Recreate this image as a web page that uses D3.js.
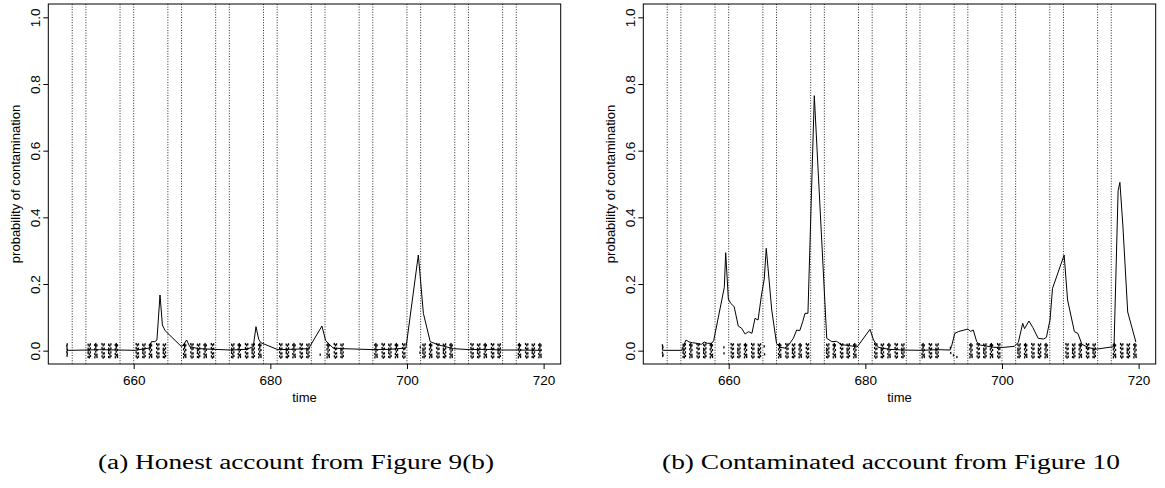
<!DOCTYPE html>
<html>
<head>
<meta charset="utf-8">
<script src="https://cdn.jsdelivr.net/npm/d3@7"></script>
<style>
  body { margin: 0; background: #fff; }
  svg { display: block; }
</style>
</head>
<body>
<svg id="chart" width="1165" height="488"></svg>
<script>
// weekend boundaries (dotted verticals), same for both accounts
const weekendLines = [651, 653, 658, 660, 665, 667, 672, 674, 679, 681, 686, 688, 693, 695, 700, 702, 707, 709, 714, 716];
const xTicks = [660, 680, 700, 720];
const yTicks = [0, 0.2, 0.4, 0.6, 0.8, 1.0];

// (a) honest account
const honestTime = [650.2, 650.5, 653.2, 655.0, 657.7, 660.2, 662.3, 662.6, 663.1, 663.4, 663.85, 664.2, 664.6,
  667.0, 667.3, 667.75, 668.2, 669.5, 671.7, 674.2, 676.5, 677.5, 677.9, 678.3, 678.6, 681.1, 683.0, 685.6,
  687.55, 688.1, 688.5, 689.2, 690.6, 695.2, 697.5, 699.85, 701.66, 702.4, 703.4, 704.5, 706.8, 709.2, 711.5,
  713.8, 716.2, 719.7];
const honestProb = [0.002, 0.001, 0.002, 0.003, 0.002, 0.001, 0.008, 0.027, 0.027, 0.032, 0.167, 0.077, 0.060,
  0.012, 0.018, 0.032, 0.012, 0.006, 0.004, 0.002, 0.004, 0.012, 0.072, 0.034, 0.024, 0.003, 0.004, 0.006,
  0.074, 0.030, 0.022, 0.008, 0.006, 0.003, 0.004, 0.008, 0.287, 0.112, 0.027, 0.018, 0.006, 0.003, 0.004,
  0.002, 0.002, 0.001];
const honestDays = [653, 654, 655, 656, 657, 660, 661, 662, 663, 664, 667, 668, 669, 670, 671, 674, 675, 676, 677, 678,
  681, 682, 683, 684, 685, 688, 689, 690, 695, 696, 697, 698, 699, 702, 703, 704, 705, 706, 709, 710, 711, 712, 713,
  716, 717, 718, 719];
const honestStrayT = [650.22, 650.22, 650.24, 650.25, 650.27, 650.28, 650.3, 687.3, 701.9, 701.95];
const honestStrayY = [0.014, -0.004, 0.007, -0.015, 0.019, -0.009, 0.002, -0.012, -0.006, 0.01];

// (b) contaminated account
const contamTime = [650.3, 653.1, 653.75, 654.2, 654.7, 655.3, 656.0, 656.4, 656.9, 657.5, 657.8, 659.36, 659.56,
  659.95, 660.3, 660.8, 661.4, 661.9, 662.4, 662.9, 663.4, 663.85, 664.3, 664.8, 665.2, 665.5, 666.3, 667.0,
  667.5, 668.2, 668.7, 669.46, 669.95, 670.4, 670.83, 671.17, 671.6, 672.53, 674.35, 675.1, 675.8, 676.5, 677.75,
  678.8, 680.68, 681.2, 681.9, 683.5, 685.5, 688.2, 690.6, 692.4, 692.6, 693.1, 693.6, 695.0, 695.4, 695.8,
  696.3, 696.8, 698.8, 700.3, 701.8, 702.4, 703.03, 703.3, 703.95, 704.5, 705.3, 706.1, 706.5, 707.03, 707.4,
  709.1, 709.6, 710.6, 711.1, 711.7, 712.6, 713.6, 716.4, 717.0, 717.26, 717.7, 718.4, 719.6];
const contamProb = [0.001, 0.001, 0.032, 0.026, 0.024, 0.022, 0.019, 0.026, 0.022, 0.022, 0.030, 0.190, 0.294,
  0.155, 0.142, 0.132, 0.074, 0.067, 0.050, 0.057, 0.052, 0.097, 0.092, 0.167, 0.215, 0.307, 0.122, 0.022,
  0.010, 0.008, 0.015, 0.037, 0.062, 0.060, 0.087, 0.112, 0.112, 0.765, 0.037, 0.027, 0.028, 0.018, 0.015,
  0.011, 0.064, 0.032, 0.010, 0.004, 0.002, 0.001, 0.003, 0.002, 0.012, 0.052, 0.057, 0.065, 0.058, 0.062,
  0.027, 0.017, 0.010, 0.010, 0.013, 0.025, 0.082, 0.066, 0.089, 0.070, 0.037, 0.035, 0.040, 0.092, 0.187,
  0.287, 0.152, 0.057, 0.052, 0.019, 0.010, 0.004, 0.012, 0.480, 0.505, 0.374, 0.116, 0.026];
const contamDays = [653, 654, 655, 656, 657, 660, 661, 662, 663, 664, 667, 668, 669, 670, 671, 674, 675, 676, 677, 678,
  681, 682, 683, 684, 685, 688, 689, 690, 695, 696, 697, 698, 699, 702, 703, 704, 705, 706, 709, 710, 711, 712, 713,
  716, 717, 718, 719];
const contamStrayT = [650.3, 650.3, 650.32, 650.34, 650.36, 650.38, 659.3, 659.32, 665.2, 665.25, 692.45, 692.5, 692.9, 693.4];
const contamStrayY = [0.016, -0.006, 0.006, -0.016, 0.011, -0.012, 0.01, -0.008, 0.013, -0.011, 0.009, -0.007, -0.014, -0.019];

// transaction times within a working day (offset in days) and their jitter
const stripDx = [
  [0.33, 0.33, 0.33, 0.33, 0.34, 0.50, 0.50, 0.50, 0.51, 0.66, 0.66, 0.66, 0.67],
  [0.30, 0.30, 0.30, 0.31, 0.45, 0.45, 0.45, 0.46, 0.46, 0.62, 0.62, 0.62, 0.63],
  [0.36, 0.36, 0.36, 0.37, 0.53, 0.53, 0.53, 0.53, 0.69, 0.69, 0.69, 0.70]
];
const stripDy = [
  [0.018, 0.006, -0.007, -0.019, 0.000, 0.015, 0.003, -0.011, -0.020, 0.019, 0.007, -0.005, -0.016],
  [0.017, 0.004, -0.010, -0.020, 0.020, 0.009, -0.003, -0.014, 0.014, 0.016, 0.002, -0.012, -0.019],
  [0.020, 0.008, -0.005, -0.017, 0.016, 0.004, -0.009, -0.021, 0.019, 0.006, -0.008, -0.018]
];

const svg = d3.select("#chart");
svg.append("rect").attr("width", 1165).attr("height", 488).attr("fill", "#fff");

const plotW = 512.4, plotTop = 4, plotBottom = 364;
const sans = "Liberation Sans, Arial, sans-serif";

function drawPanel(left, time, prob, days, strayT, strayY, caption, capW) {
  let x = d3.scaleLinear().domain([647.5, 722.5]).range([left, left + plotW]);
  let y = d3.scaleLinear().domain([-0.04, 1.04]).range([plotBottom, plotTop]);
  let g = svg.append("g");

  // weekend markers
  g.append("g")
    .selectAll("line")
    .data(weekendLines)
    .join("line")
    .attr("x1", d => x(d)).attr("x2", d => x(d))
    .attr("y1", plotTop).attr("y2", plotBottom)
    .attr("stroke", "#111")
    .attr("stroke-width", 0.9)
    .attr("stroke-dasharray", "1,1.6");

  // jittered transactions
  let pts = [];
  days.forEach((d, i) => {
    let k = i % 3;
    stripDx[k].forEach((dx, j) => pts.push([d + dx, stripDy[k][j]]));
  });
  strayT.forEach((t, i) => pts.push([t, strayY[i]]));
  g.append("g")
    .selectAll("rect")
    .data(pts)
    .join("rect")
    .attr("x", d => x(d[0]) - 0.65)
    .attr("y", d => y(d[1]) - 1.1)
    .attr("width", 1.3)
    .attr("height", 2.2)
    .attr("fill", "#000");

  // probability line
  let line = d3.line().x(d => x(d[0])).y(d => y(d[1]));
  g.append("path")
    .datum(time.map((t, i) => [t, prob[i]]))
    .attr("d", line)
    .attr("fill", "none")
    .attr("stroke", "#000")
    .attr("stroke-width", 1);

  // box
  g.append("rect")
    .attr("x", left).attr("y", plotTop)
    .attr("width", plotW).attr("height", plotBottom - plotTop)
    .attr("fill", "none").attr("stroke", "#000").attr("stroke-width", 1);

  // axes
  let xAxis = g.append("g")
    .attr("transform", "translate(0," + plotBottom + ")")
    .call(d3.axisBottom(x).tickValues(xTicks).tickSize(5).tickPadding(6).tickFormat(d3.format("d")));
  xAxis.select(".domain").remove();
  xAxis.selectAll("text").attr("font-family", sans).attr("font-size", 13.5).attr("fill", "#000");

  let yAxis = g.append("g")
    .attr("transform", "translate(" + left + ",0)")
    .call(d3.axisLeft(y).tickValues(yTicks).tickSize(5).tickFormat(d3.format(".1f")));
  yAxis.select(".domain").remove();
  yAxis.selectAll("text")
    .attr("x", 0).attr("dy", 0)
    .attr("transform", "translate(-8.5,0) rotate(-90)")
    .attr("text-anchor", "middle")
    .attr("font-family", sans).attr("font-size", 13.5).attr("fill", "#000");

  g.append("text")
    .attr("x", left + plotW / 2).attr("y", 402)
    .attr("text-anchor", "middle")
    .attr("font-family", sans).attr("font-size", 13)
    .text("time");

  g.append("text")
    .attr("transform", "translate(" + (left - 28.5) + "," + ((plotTop + plotBottom) / 2) + ") rotate(-90)")
    .attr("text-anchor", "middle")
    .attr("font-family", sans).attr("font-size", 13)
    .text("probability of contamination");

  g.append("text")
    .attr("x", left + plotW / 2 - 8.5 - capW / 2)
    .attr("y", 469)
    .attr("font-family", "Liberation Serif, serif").attr("font-size", 20)
    .attr("textLength", capW).attr("lengthAdjust", "spacingAndGlyphs")
    .text(caption);
}

drawPanel(48.3, honestTime, honestProb, honestDays, honestStrayT, honestStrayY, "(a) Honest account from Figure 9(b)", 396);
drawPanel(643.3, contamTime, contamProb, contamDays, contamStrayT, contamStrayY, "(b) Contaminated account from Figure 10", 458);
</script>
</body>
</html>
